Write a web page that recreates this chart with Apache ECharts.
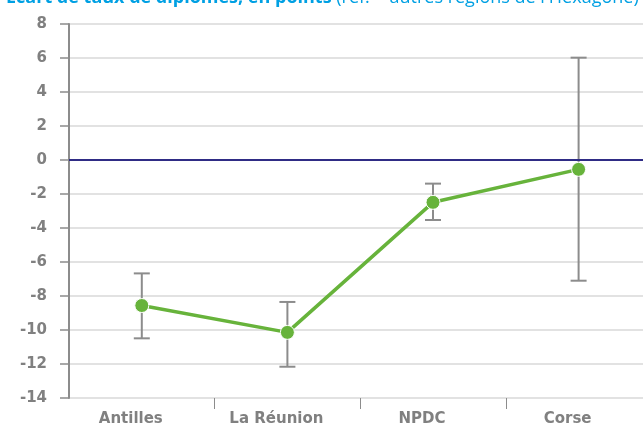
<!DOCTYPE html>
<html><head><meta charset="utf-8">
<script src="https://cdn.jsdelivr.net/npm/echarts@6/dist/echarts.min.js"></script>
<style>html,body{margin:0;padding:0;background:#fff}#c{width:643px;height:424px}</style>
</head><body><div id="c"></div>
<script>
var categories = ['Antilles', 'La Réunion', 'NPDC', 'Corse'];
var values = [-8.56, -10.14, -2.49, -0.55];
var errLow = [-10.49, -12.16, -3.53, -7.10];
var errHigh = [-6.67, -8.35, -1.39, 6.02];
var yTicks = {min: -14, max: 8, interval: 2};
var titleBold = 'Écart de taux de diplômés, en points';
var titleNormal = ' (réf. = autres régions de l\'Hexagone)';

var chart = echarts.init(document.getElementById('c'), null, {renderer: 'canvas'});
var axisFont = 'DejaVu Sans';
chart.setOption({
  animation: false,
  backgroundColor: '#ffffff',
  graphic: [{
    type: 'text', left: 6, top: -11, z: 100,
    style: {
      text: '{b|' + titleBold + '}{n|' + titleNormal + '}',
      rich: {
        b: {fontFamily: 'Open Sans', fontWeight: 'bold', fontSize: 18, fill: '#00a0e3', color: '#00a0e3'},
        n: {fontFamily: 'Open Sans', fontWeight: 'normal', fontSize: 18, fill: '#00a0e3', color: '#00a0e3'}
      }
    }
  }],
  grid: {left: 69, top: 24, width: 582.4, height: 374, containLabel: false, outerBoundsMode: 'none'},
  xAxis: {
    type: 'category', data: categories, boundaryGap: true,
    axisLine: {show: false, onZero: false},
    axisTick: {show: true, length: 11, lineStyle: {color: '#8c8c8c', width: 1},
      interval: function (i) { return i > 0; }},
    axisLabel: {color: '#808080', fontFamily: axisFont, fontWeight: 'bold', fontSize: 15,
      margin: 14, padding: [0, 22, 0, 0]},
    splitLine: {show: false}
  },
  yAxis: {
    type: 'value', min: yTicks.min, max: yTicks.max, interval: yTicks.interval,
    axisLine: {show: true, lineStyle: {color: '#8c8c8c', width: 2}},
    axisTick: {show: true, length: 9, lineStyle: {color: '#8c8c8c', width: 1.5}},
    axisLabel: {color: '#808080', fontFamily: axisFont, fontWeight: 'bold', fontSize: 15, margin: 22},
    splitLine: {show: true, lineStyle: {color: '#d9d9d9', width: 1.5}}
  },
  series: [
    {
      type: 'custom',
      z: 3,
      data: categories.map(function (c, i) { return [i, errLow[i], errHigh[i]]; }),
      renderItem: function (params, api) {
        var x = api.value(0);
        var lo = api.coord([x, api.value(1)]);
        var hi = api.coord([x, api.value(2)]);
        var cap = 8;
        var st = {stroke: '#8c8c8c', lineWidth: 2, fill: null};
        return {type: 'group', children: [
          {type: 'line', shape: {x1: lo[0], y1: lo[1], x2: hi[0], y2: hi[1]}, style: st},
          {type: 'line', shape: {x1: lo[0] - cap, y1: lo[1], x2: lo[0] + cap, y2: lo[1]}, style: st},
          {type: 'line', shape: {x1: hi[0] - cap, y1: hi[1], x2: hi[0] + cap, y2: hi[1]}, style: st}
        ]};
      },
      encode: {x: 0, y: [1, 2]}
    },
    {
      type: 'line', data: values, z: 5,
      symbol: 'circle', symbolSize: 14,
      lineStyle: {color: '#67b33b', width: 3.5},
      itemStyle: {color: '#67b33b', borderColor: '#ffffff', borderWidth: 1},
      markLine: {
        silent: true, symbol: ['none', 'none'], label: {show: false},
        lineStyle: {color: '#2f2c85', width: 2, type: 'solid'},
        data: [{yAxis: 0}]
      }
    }
  ]
});
</script></body></html>
